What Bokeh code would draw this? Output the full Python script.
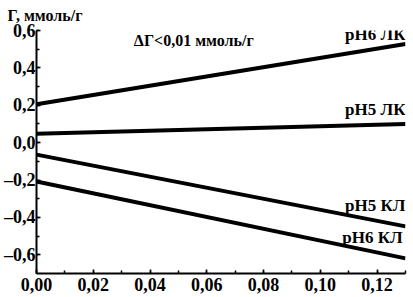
from bokeh.plotting import figure
from bokeh.models import Range1d, SingleIntervalTicker, CustomJSTickFormatter, Label
from bokeh.embed import file_html
from bokeh.resources import INLINE

# data
x_vals = [0.0, 0.13]
series_names = ["pH6 ЛК", "pH5 ЛК", "pH5 КЛ", "pH6 КЛ"]
ph6_lk = [0.205, 0.528]
ph5_lk = [0.048, 0.100]
ph5_kl = [-0.064, -0.448]
ph6_kl = [-0.208, -0.619]
y_axis_title = "Г, ммоль/г"
note_text = "ΔГ<0,01 ммоль/г"

FONT = "Liberation Serif"

p = figure(width=413, height=297, output_backend="svg", toolbar_location=None,
           x_range=Range1d(0, 0.13), y_range=Range1d(-0.70, 0.6001),
           min_border_left=34, min_border_right=8, min_border_top=30, min_border_bottom=24)
p.background_fill_color = "white"
p.border_fill_color = "white"
p.outline_line_color = None
p.xgrid.visible = False
p.ygrid.visible = False

p.title.text = y_axis_title
p.title.align = "left"
p.title.vertical_align = "top"
p.title.offset = -29
p.title.standoff = 10
p.title.text_font = FONT
p.title.text_font_style = "bold"
p.title.text_font_size = "16px"
p.title.text_color = "black"

for ys in (ph6_lk, ph5_lk, ph5_kl, ph6_kl):
    p.line(x_vals, ys, line_color="black", line_width=4)

for ax in (p.xaxis[0], p.yaxis[0]):
    ax.axis_line_width = 2
    ax.axis_line_color = "black"
    ax.major_tick_in = 4
    ax.major_tick_out = 0
    ax.minor_tick_in = 3
    ax.minor_tick_out = 0
    ax.major_tick_line_width = 1.5
    ax.minor_tick_line_width = 1.5
    ax.major_label_text_font = FONT
    ax.major_label_text_font_style = "bold"
    ax.major_label_text_font_size = "18px"
    ax.major_label_text_color = "black"

p.xaxis.ticker = SingleIntervalTicker(interval=0.02, num_minor_ticks=2)
p.yaxis.ticker = SingleIntervalTicker(interval=0.2, num_minor_ticks=2)
p.xaxis.formatter = CustomJSTickFormatter(code="""
if (Math.abs(tick) < 1e-9) return '0,00';
return tick.toFixed(2).replace('.', ',');
""")
p.yaxis.formatter = CustomJSTickFormatter(code="""
if (Math.abs(tick) < 1e-9) return '0,0';
return tick.toFixed(1).replace('.', ',').replace('-', '\u2013');
""")
p.xaxis.major_label_standoff = 4
p.yaxis.major_label_standoff = 1

label_pos = [(0.13, 0.58), (0.13, 0.18), (0.13, -0.336), (0.129, -0.507)]
for name, (lx, ly) in zip(series_names, label_pos):
    p.add_layout(Label(x=lx, y=ly, text=name, text_align="right", text_baseline="middle",
                       text_font=FONT, text_font_style="bold", text_font_size="17px",
                       text_color="black"))

p.add_layout(Label(x=0.0343, y=0.544, text=note_text, text_align="left", text_baseline="middle",
                   text_font=FONT, text_font_style="bold", text_font_size="16px", text_color="black"))

open("out.html", "w").write(file_html(p, INLINE))
